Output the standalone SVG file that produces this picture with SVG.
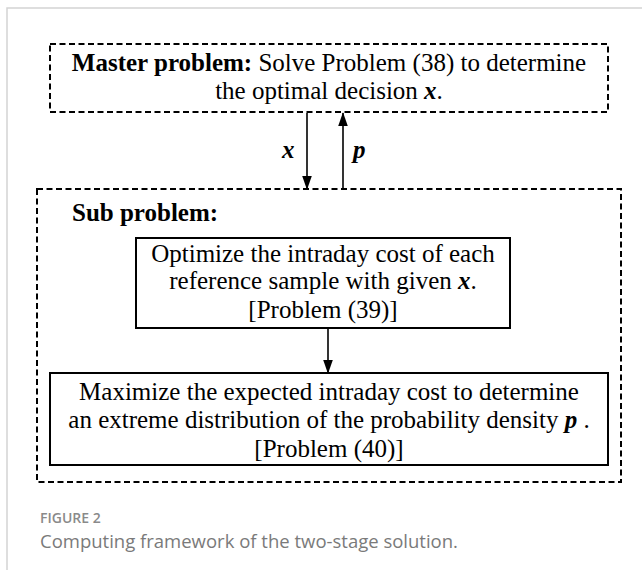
<svg xmlns="http://www.w3.org/2000/svg" width="642" height="570" viewBox="0 0 642 570">
  <defs>
    <marker id="arrow" markerWidth="14" markerHeight="20" refX="19" refY="7" orient="auto" markerUnits="userSpaceOnUse" viewBox="0 0 20 14">
      <path d="M0,0 L20,7 L0,14 Z" fill="#000"/>
    </marker>
    <style>
      .frame { stroke: #d4d4d4; stroke-width: 1.5; fill: none; }
      .dash { fill: #fff; stroke: #000; stroke-width: 2; stroke-dasharray: 6 3.5; }
      .solid { fill: #fff; stroke: #000; stroke-width: 2; }
      .t { font-family: "Liberation Serif", "Times New Roman", serif; font-size: 25px; fill: #000; }
      .c { text-anchor: middle; }
      .b { font-weight: bold; }
      .bi { font-weight: bold; font-style: italic; }
      .edge { stroke: #000; stroke-width: 1.6; fill: none; marker-end: url(#arrow); }
      .cap1 { font-family: "Open Sans", "Noto Sans", sans-serif; font-size: 14px; font-weight: 600; fill: #8a8a8a; }
      .cap2 { font-family: "Open Sans", "Noto Sans", sans-serif; font-size: 18.5px; fill: #7a7a7a; }
    </style>
  </defs>
  <rect width="642" height="570" fill="#fff"/>
  <!-- page frame -->
  <path class="frame" d="M7,570 V8 H642"/>

  <!-- master problem -->
  <g id="master">
    <rect class="dash" x="50" y="44" width="558" height="68"/>
    <text class="t c" x="329" y="71"><tspan class="b">Master problem:</tspan> Solve Problem (38) to determine</text>
    <text class="t c" x="329" y="99">the optimal decision <tspan class="bi">x</tspan>.</text>
  </g>

  <!-- sub problem container -->
  <g id="sub">
    <rect class="dash" x="37" y="189" width="584" height="293"/>
    <text class="t b" x="72" y="221">Sub problem:</text>
  </g>

  <g id="intraday">
    <rect class="solid" x="136" y="238" width="374" height="90"/>
    <text class="t c" x="323" y="262">Optimize the intraday cost of each</text>
    <text class="t c" x="323" y="289">reference sample with given <tspan class="bi">x</tspan>.</text>
    <text class="t c" x="323" y="318">[Problem (39)]</text>
  </g>

  <g id="expected">
    <rect class="solid" x="50" y="373" width="558" height="92"/>
    <text class="t c" x="329" y="400">Maximize the expected intraday cost to determine</text>
    <text class="t c" x="329" y="428">an extreme distribution of the probability density <tspan class="bi">p</tspan> .</text>
    <text class="t c" x="329" y="457">[Problem (40)]</text>
  </g>

  <!-- connectors -->
  <g id="connectors">
    <line class="edge" x1="307" y1="113" x2="307" y2="189"/>
    <line class="edge" x1="343" y1="189" x2="343" y2="113"/>
    <line class="edge" x1="328" y1="329" x2="328" y2="373"/>
    <text class="t bi" x="282" y="158">x</text>
    <text class="t bi" x="353" y="158">p</text>
  </g>

  <!-- caption -->
  <text class="cap1" x="40" y="523">FIGURE 2</text>
  <text class="cap2" x="40" y="548">Computing framework of the two-stage solution.</text>
</svg>
